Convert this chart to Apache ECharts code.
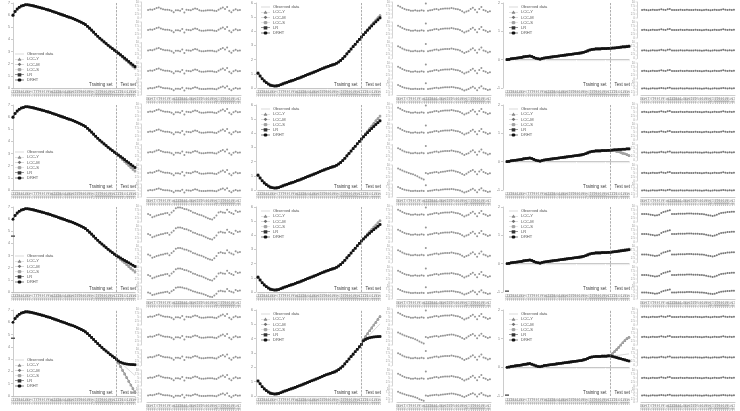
<!DOCTYPE html>
<html lang="en">
<head>
<meta charset="UTF-8">
<title>Forecast panels</title>
<style>
  html, body { margin: 0; padding: 0; background: #fff; }
  #chart { width: 740px; height: 411px; }
</style>
</head>
<body>
<div id="chart"></div>
<script src="https://cdn.jsdelivr.net/npm/echarts@6/dist/echarts.min.js"></script>
<script>
// x axis periods, 51 training + 9 test
var periodLabels = ['1961','1962','1963','1964','1965','1966','1967','1968','1969','1970',
  '1971','1972','1973','1974','1975','1976','1977','1978','1979','1980',
  '1981','1982','1983','1984','1985','1986','1987','1988','1989','1990',
  '1991','1992','1993','1994','1995','1996','1997','1998','1999','2000',
  '2001','2002','2003','2004','2005','2006','2007','2008','2009','2010',
  '2011','2012','2013','2014','2015','2016','2017','2018','2019','2020'];
var residualLabels = ['1968','1969','1970','1971','1972','1973','1974','1975','1976','1977',
  '1978','1979','1980','1981','1982','1983','1984','1985','1986','1987',
  '1988','1989','1990','1991','1992','1993','1994','1995','1996','1997',
  '1998','1999','2000','2001','2002','2003','2004','2005','2006','2007',
  '2008','2009','2010','2011'];
var lastTraining = 50;
var modelNames = ['LCC-Y', 'LCC-M', 'LCC-S', 'LR', 'DRHT'];

// observed series, one per forecast column
var observedCol1 = [6.0,6.3,6.5,6.65,6.75,6.8,6.85,6.85,6.83,6.8,
  6.76,6.72,6.67,6.62,6.58,6.53,6.48,6.43,6.38,6.32,
  6.26,6.2,6.14,6.08,6.02,5.96,5.9,5.84,5.78,5.72,
  5.65,5.58,5.5,5.42,5.33,5.22,5.08,4.93,4.77,4.6,
  4.43,4.26,4.1,3.95,3.8,3.66,3.52,3.38,3.25,3.12,
  3.0,2.86,2.72,2.57,2.42,2.27,2.12,1.97,1.82,1.67];
var observedCol3 = [1.05,0.85,0.65,0.5,0.38,0.28,0.2,0.16,0.14,0.15,
  0.18,0.23,0.29,0.35,0.4,0.45,0.5,0.55,0.6,0.66,
  0.71,0.77,0.83,0.89,0.95,1.0,1.06,1.12,1.18,1.24,
  1.3,1.36,1.42,1.48,1.53,1.58,1.63,1.68,1.75,1.84,
  1.95,2.08,2.24,2.41,2.58,2.75,2.92,3.09,3.26,3.43,
  3.6,3.77,3.94,4.1,4.26,4.42,4.58,4.73,4.88,5.03];
var observedCol5 = [0.0,0.01,0.03,0.04,0.05,0.06,0.07,0.08,0.1,0.11,
  0.12,0.13,0.11,0.08,0.05,0.03,0.02,0.04,0.06,0.07,
  0.08,0.09,0.1,0.11,0.12,0.13,0.14,0.15,0.16,0.17,
  0.18,0.19,0.2,0.21,0.22,0.23,0.24,0.26,0.28,0.31,
  0.34,0.36,0.37,0.38,0.38,0.38,0.39,0.39,0.39,0.4,
  0.4,0.41,0.41,0.42,0.42,0.43,0.44,0.45,0.46,0.47];

// LR's first fitted value, off the curve in rows 3-4
var fitStartCol1 = [null, null, 4.6, 4.7];
var fitStartCol3 = [null, null, null, null];
var fitStartCol5 = [null, null, -0.97, -0.97];

// test-set predictions: LCC models / LR + DRHT, per row
var col1LccRows = [
  [2.85,2.7,2.55,2.4,2.25,2.1,1.95,1.8,1.65],
  [2.84,2.68,2.52,2.36,2.2,2.04,1.88,1.72,1.56],
  [2.86,2.71,2.56,2.41,2.26,2.11,1.96,1.81,1.66],
  [2.7,2.4,2.1,1.8,1.5,1.2,0.9,0.6,0.3]];
var col1LrRows = [
  [2.87,2.74,2.6,2.46,2.32,2.18,2.04,1.9,1.76],
  [2.88,2.76,2.63,2.5,2.37,2.24,2.11,1.98,1.85],
  [2.9,2.8,2.7,2.6,2.5,2.4,2.3,2.2,2.1],
  [2.85,2.75,2.68,2.63,2.6,2.58,2.56,2.55,2.54]];
var col3LccRows = [
  [3.78,3.96,4.13,4.3,4.47,4.64,4.8,4.96,5.12],
  [3.79,3.98,4.16,4.34,4.52,4.7,4.88,5.05,5.22],
  [3.77,3.94,4.1,4.26,4.42,4.58,4.73,4.88,5.03],
  [3.95,4.15,4.35,4.55,4.75,4.95,5.15,5.35,5.55]];
var col3LrRows = [
  [3.76,3.92,4.08,4.23,4.38,4.53,4.67,4.81,4.95],
  [3.75,3.9,4.05,4.2,4.34,4.48,4.62,4.75,4.88],
  [3.74,3.88,4.02,4.15,4.28,4.4,4.52,4.64,4.76],
  [3.85,3.95,4.02,4.06,4.1,4.12,4.13,4.14,4.15]];
var col5LccRows = [
  [0.41,0.42,0.43,0.44,0.45,0.46,0.47,0.48,0.49],
  [0.4,0.39,0.37,0.35,0.33,0.3,0.28,0.25,0.22],
  [0.42,0.43,0.44,0.46,0.47,0.48,0.5,0.51,0.52],
  [0.48,0.55,0.62,0.7,0.78,0.86,0.93,1.0,1.05]];
var col5LrRows = [
  [0.41,0.41,0.42,0.43,0.44,0.45,0.45,0.46,0.47],
  [0.41,0.42,0.42,0.43,0.43,0.44,0.44,0.45,0.45],
  [0.41,0.42,0.43,0.44,0.45,0.46,0.47,0.48,0.49],
  [0.38,0.36,0.34,0.32,0.3,0.28,0.26,0.24,0.22]];

// residual strips (0..10 scale, 5 strips per panel)
var res2a = [5.0,5.3,5.2,5.6,6.2,6.6,6.0,5.4,5.2,5.1,5.0,4.6,3.6,4.8,4.8,4.6,5.6,3.4,5.2,5.0,
  4.8,5.4,6.0,5.6,4.8,4.6,4.6,4.7,4.8,4.8,4.8,4.6,4.4,5.2,6.0,6.6,5.6,6.8,4.6,3.6,4.8,5.4,4.8,5.0];
var res2b = [5.0,4.4,3.0,3.5,4.0,4.4,4.8,5.0,5.4,5.6,4.6,6.0,7.0,8.6,9.0,9.0,8.8,8.2,8.0,7.4,
  6.8,6.0,5.6,5.0,4.6,4.2,3.6,3.0,2.4,1.8,1.6,2.6,4.0,6.0,6.4,6.0,5.8,7.6,6.2,5.6,5.0,7.0,6.2,6.6];
var res4a = [7.6,7.0,6.2,5.6,5.2,5.0,4.6,4.6,4.8,4.6,4.6,4.8,4.6,9.0,4.6,4.8,5.0,5.4,5.6,5.2,
  5.6,5.8,6.0,6.0,6.0,6.2,6.0,5.6,5.4,5.0,4.2,3.4,4.0,4.6,5.6,6.4,5.2,3.6,5.6,6.8,5.0,4.6,3.8,4.2];
var res4b = [7.8,7.2,6.6,6.0,5.4,5.0,4.6,4.2,3.6,3.0,2.2,1.6,1.0,5.0,4.6,5.0,5.2,5.4,5.6,5.2,
  5.6,5.8,6.0,6.2,6.4,6.6,6.4,6.0,5.6,5.2,4.4,3.8,4.6,5.4,6.2,6.8,5.8,4.2,6.0,7.0,5.6,5.0,4.4,4.8];
var res6a = [5.0,5.0,5.0,4.8,4.6,4.4,4.0,4.2,4.6,5.6,6.2,6.6,7.0,7.4,5.0,5.0,5.0,5.1,5.2,5.2,
  5.2,5.3,5.3,5.3,5.2,5.2,5.1,5.0,5.0,4.8,4.6,4.2,4.0,3.8,4.0,4.6,5.2,5.6,5.8,6.0,6.2,6.2,6.4,6.4];
var res6b = [5.0,5.2,5.0,4.8,5.0,5.2,5.0,5.0,5.2,5.4,5.2,5.0,5.4,5.6,5.0,5.0,5.0,5.0,5.2,5.0,
  5.0,5.2,5.0,5.0,5.0,5.2,5.0,5.0,4.8,5.0,5.2,5.0,4.8,5.0,5.2,5.0,5.0,5.2,5.4,5.2,5.0,5.2,5.0,5.2];

// which strip goes in each residual panel [row][panel]
var residualRow1 = [[res2a,res2a,res2a,res2a,res2a],[res4a,res4a,res4a,res4a,res4a],[res6b,res6b,res6b,res6b,res6b]];
var residualRow2 = [[res2a,res2a,res2a,res2a,res2a],[res4a,res4a,res4a,res4b,res4a],[res6b,res6b,res6b,res6b,res6b]];
var residualRow3 = [[res2b,res2b,res2b,res2b,res2b],[res4a,res4a,res4a,res4a,res4a],[res6a,res6a,res6a,res6a,res6a]];
var residualRow4 = [[res2a,res2a,res2a,res2a,res2a],[res4a,res4b,res4a,res4a,res4b],[res6b,res6b,res6b,res6b,res6b]];

// layout
var rowTop = [3, 105, 207, 310];
var rowBottom = [88, 190, 292, 396];
var fcLeft = [13, 258, 507], fcOffset = [0, 2, 4], fcWidth = 122;
var resLeft = [147, 397, 641], resOffset = [6, 5, 4], resWidth = 94;
var subTop = [-1, 19, 39.5, 60, 79], subHeight = [16, 16, 16, 16, 13];
var legendLeft = [15, 261, 509];
var legendTopCol1 = [52, 150, 254, 358];

var fcColumns = [
  { obs: observedCol1, start: fitStartCol1, lcc: col1LccRows, lr: col1LrRows, min: 0, max: 7 },
  { obs: observedCol3, start: fitStartCol3, lcc: col3LccRows, lr: col3LrRows, min: 0, max: 6 },
  { obs: observedCol5, start: fitStartCol5, lcc: col5LccRows, lr: col5LrRows, min: -1, max: 2 }
];
var residualRows = [residualRow1, residualRow2, residualRow3, residualRow4];

var modelStyle = [
  { symbol: 'triangle', color: '#8a8a8a' },
  { symbol: 'diamond', color: '#707070' },
  { symbol: 'circle', color: '#a3a3a3' },
  { symbol: 'rect', color: '#333' },
  { symbol: 'circle', color: '#111' }
];

// legend icons: a short line with the marker in the middle
// (tiny corner specks keep the thin line from being stretched)
var iconLine = 'path://M0,0L0.05,0L0,0.05Z M0,10L0.05,10L0,9.95Z M0,4.6L20,4.6L20,5.4L0,5.4Z';
var legendIcons = [
  'path://M0,4.5L7.8,4.5L10,0L12.2,4.5L20,4.5L20,5.5L12.7,5.5L14,10L6,10L7.3,5.5L0,5.5Z',
  'path://M0,4.5L6,4.5L10,0L14,4.5L20,4.5L20,5.5L14,5.5L10,10L6,5.5L0,5.5Z',
  'path://M0,4.5L6,4.5L6,3L8,1L12,1L14,3L14,4.5L20,4.5L20,5.5L14,5.5L14,7L12,9L8,9L6,7L6,5.5L0,5.5Z',
  'path://M0,4.5L6,4.5L6,1L14,1L14,4.5L20,4.5L20,5.5L14,5.5L14,9L6,9L6,5.5L0,5.5Z',
  'path://M0,4.5L6,4.5L6,3L8,1L12,1L14,3L14,4.5L20,4.5L20,5.5L14,5.5L14,7L12,9L8,9L6,7L6,5.5L0,5.5Z'
];

var grids = [], xAxes = [], yAxes = [], series = [], legends = [], fcIndex = [];

function axisX(gi, labels, show) {
  return {
    gridIndex: gi, type: 'category', data: labels, boundaryGap: false, show: show,
    axisLine: { lineStyle: { color: '#999', width: 0.5 } },
    axisTick: { length: 1.5, lineStyle: { color: '#aaa', width: 0.4 }, interval: 0 },
    axisLabel: { interval: 0, rotate: 90, fontSize: 3, color: '#888', margin: 2 }
  };
}

function addForecast(r, c) {
  var col = fcColumns[c];
  var gi = grids.length;
  fcIndex.push({ gi: gi, min: col.min });
  grids.push({ left: fcLeft[c], top: rowTop[r], width: fcWidth, height: rowBottom[r] - rowTop[r], outerBoundsMode: 'none' });
  xAxes.push(axisX(gi, periodLabels, true));
  yAxes.push({
    gridIndex: gi, type: 'value', min: col.min, max: col.max, interval: 1, offset: fcOffset[c],
    splitLine: { show: false },
    axisLine: { show: true, lineStyle: { color: '#999', width: 0.5 } },
    axisTick: { show: true, length: 2, lineStyle: { color: '#999', width: 0.5 } },
    axisLabel: { fontSize: 3.5, color: '#777', margin: 3 }
  });
  series.push({
    name: 'Observed data', type: 'line', xAxisIndex: gi, yAxisIndex: gi,
    data: col.obs, symbol: 'none',
    itemStyle: { color: '#b5b5b5' },
    lineStyle: { color: '#bdbdbd', width: 0.6 },
    markLine: {
      silent: true, symbol: ['none', 'none'], label: { show: false },
      lineStyle: { type: 'dashed', color: '#777', width: 0.6 },
      data: [{ xAxis: periodLabels[lastTraining] }]
    }
  });
  var training = col.obs.slice(0, lastTraining + 1);
  modelNames.forEach(function (name, m) {
    var fit = training.slice();
    var pred = m < 3 ? col.lcc[r] : col.lr[r];
    var offStart = m === 3 && col.start[r] !== null;
    if (offStart) fit[0] = null;
    series.push({
      name: name, type: 'line', xAxisIndex: gi, yAxisIndex: gi,
      data: fit.concat(pred),
      symbol: modelStyle[m].symbol, symbolSize: 2.6, showAllSymbol: true,
      itemStyle: { color: modelStyle[m].color },
      lineStyle: { color: modelStyle[m].color, width: 0.5 }
    });
    if (offStart) {
      // isolated first fitted value
      series.push({
        name: name, type: 'scatter', xAxisIndex: gi, yAxisIndex: gi,
        data: [[0, col.start[r]]], symbol: modelStyle[m].symbol, symbolSize: [4, 1.5],
        itemStyle: { color: modelStyle[m].color }
      });
    }
  });
  legends.push({
    left: legendLeft[c], top: c === 0 ? legendTopCol1[r] : rowTop[r] + 2,
    orient: 'vertical', padding: 0, itemGap: 1.2, itemWidth: 9, itemHeight: 3.2,
    selectedMode: false, symbolKeepAspect: false,
    textStyle: { fontSize: 4, color: '#555', padding: [0, 0, 0, -2] },
    data: [{ name: 'Observed data', icon: iconLine }].concat(modelNames.map(function (n, m) {
      return { name: n, icon: legendIcons[m] };
    }))
  });
}

function addResidual(r, c) {
  var strips = residualRows[r][c];
  for (var k = 0; k < 5; k++) {
    var gi = grids.length;
    grids.push({ left: resLeft[c], top: rowTop[r] + subTop[k], width: resWidth, height: subHeight[k], outerBoundsMode: 'none' });
    var xa = axisX(gi, residualLabels, k === 4);
    xa.boundaryGap = true;
    xAxes.push(xa);
    yAxes.push({
      gridIndex: gi, type: 'value', min: 0, max: 10, interval: 2.5, offset: resOffset[c],
      splitLine: { show: false },
      axisLine: { show: true, lineStyle: { color: '#aaa', width: 0.5 } },
      axisTick: { show: true, length: 1.5, lineStyle: { color: '#aaa', width: 0.4 } },
      axisLabel: { fontSize: 3, color: '#999', margin: 2 }
    });
    series.push({
      type: 'scatter', xAxisIndex: gi, yAxisIndex: gi, data: strips[k],
      symbol: 'circle', symbolSize: 2,
      itemStyle: { color: c === 2 ? '#555' : '#7a7a7a' }
    });
  }
}

for (var r = 0; r < 4; r++) {
  for (var c = 0; c < 3; c++) {
    addForecast(r, c);
    addResidual(r, c);
  }
}

var chart = echarts.init(document.getElementById('chart'), null, { renderer: 'canvas' });
chart.setOption({
  animation: false,
  backgroundColor: '#fff',
  textStyle: { fontFamily: 'Liberation Sans, Arial, sans-serif' },
  grid: grids, xAxis: xAxes, yAxis: yAxes, legend: legends, series: series
});

// "Training set" / "Test set" beside each dashed split line
var notes = [];
fcIndex.forEach(function (f) {
  var p = chart.convertToPixel({ xAxisIndex: f.gi, yAxisIndex: f.gi }, [lastTraining, f.min]);
  notes.push({ type: 'text', x: p[0] - 4, y: p[1] - 1, style: { text: 'Training set', fontSize: 4.5, fill: '#444', align: 'right', verticalAlign: 'bottom' } });
  notes.push({ type: 'text', x: p[0] + 4, y: p[1] - 1, style: { text: 'Test set', fontSize: 4.5, fill: '#444', align: 'left', verticalAlign: 'bottom' } });
});
chart.setOption({ graphic: notes });
</script>
</body>
</html>
